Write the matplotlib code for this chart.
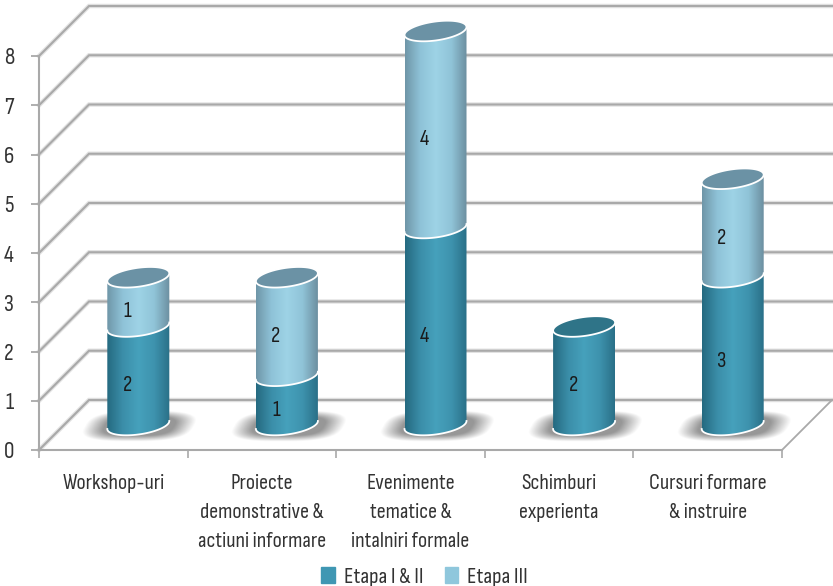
import numpy as np
import matplotlib
matplotlib.use('Agg')
import matplotlib.pyplot as plt
from matplotlib.colors import LinearSegmentedColormap
from matplotlib.patches import Patch, PathPatch, Polygon
from matplotlib.path import Path

categories = ['Workshop-uri', 'Proiecte\ndemonstrative &\nactiuni informare',
              'Evenimente\ntematice &\nintalniri formale', 'Schimburi\nexperienta',
              'Cursuri formare\n& instruire']
etapa_12 = [2, 1, 4, 2, 3]
etapa_3 = [1, 2, 4, 0, 2]
yticks = [0, 1, 2, 3, 4, 5, 6, 7, 8]

plt.rcParams['font.family'] = ['Sofia Sans Condensed', 'Liberation Sans', 'DejaVu Sans']

# one pixel in data units
px_x = 5 / 743
px_y = 8 / 394
depth = 50
bar_a = 31
bar_b = 9.5
tilt = 4

fig = plt.figure(figsize=(8.33, 5.86), dpi=100)
ax = fig.add_axes([39 / 833, 136 / 586, 743 / 833, 394 / 586])
ax.set_xlim(0, 5)
ax.set_ylim(0, 8)

grid_col = '#a9a9a9'
back_x0 = depth * px_x
back_dy = depth * px_y
back_x1 = 5 + back_x0
for v in yticks:
    # floor line is drawn the same way as the wall lines
    ax.plot([0, back_x0, back_x1], [v, v + back_dy, v + back_dy], color='#e2e2e2', lw=3.2,
            clip_on=False, zorder=1, solid_joinstyle='miter')
    ax.plot([0, back_x0, back_x1], [v, v + back_dy, v + back_dy], color=grid_col, lw=1.5,
            clip_on=False, zorder=1.1, solid_joinstyle='miter')
ax.plot([5, back_x1], [0, back_dy], color=grid_col, lw=1.3, clip_on=False, zorder=1.1)


def arc(cx, cy, t):
    return np.column_stack([cx + bar_a * px_x * np.cos(t),
                            cy + (bar_b * np.sin(t) + tilt * np.cos(t)) * px_y])


def shadow(cx, cy):
    ny, nx = 60, 140
    w, h = 58, 18
    u = np.linspace(-w, w, nx)
    y = np.linspace(-h, h, ny)
    uu, yy = np.meshgrid(u, y)
    r = ((np.abs((uu - 0.55 * yy - 2) / 44)) ** 3 + (np.abs(yy + 1) / 12.5) ** 3) ** (1 / 3)
    a = np.clip((1.25 - r) / 0.45, 0, 1) * 0.7
    img = np.zeros((ny, nx, 4))
    img[..., :3] = 0.42
    img[..., 3] = a
    ax.imshow(img, extent=[cx - w * px_x, cx + w * px_x, cy - h * px_y, cy + h * px_y],
              origin='lower', aspect='auto', zorder=2, clip_on=False)


def segment(cx, y0, y1, cmap, z):
    # y0, y1 are already shifted to the middle of the depth
    t_front = np.linspace(np.pi, 2 * np.pi, 50)
    low = arc(cx, y0, t_front)
    up = arc(cx, y1, t_front[::-1])
    verts = np.vstack([low, up, low[:1]])
    clip = PathPatch(Path(verts), transform=ax.transData)
    grad = np.linspace(0, 1, 200).reshape(1, -1)
    im = ax.imshow(grad, cmap=cmap, vmin=0, vmax=1, aspect='auto', zorder=z,
                   extent=[cx - bar_a * px_x, cx + bar_a * px_x,
                           y0 - 20 * px_y, y1 + 20 * px_y])
    im.set_clip_box(fig.bbox)
    im.set_clip_path(clip)
    ax.plot(low[:, 0], low[:, 1], color='white', lw=1.3, clip_on=False, zorder=z + 0.1)


def cap(cx, y, col, z):
    t = np.linspace(0, 2 * np.pi, 90)
    pts = arc(cx, y, t)
    ax.add_patch(Polygon(pts, closed=True, facecolor=col, edgecolor='white', lw=1.3,
                         clip_on=False, zorder=z))


dark = LinearSegmentedColormap.from_list('dark', ['#256a80', '#3b8ea9', '#46a1bc', '#3e93ae', '#2a7088'])
light = LinearSegmentedColormap.from_list('light', ['#6f96a8', '#8fc3d8', '#9ed3e6', '#90c4d8', '#6c8fa0'])
dark_top = '#2f7488'
light_top = '#6b92a5'

shift = back_dy / 2
label_shift = 15 * px_y
for i in range(len(categories)):
    cx = i + 0.5 + back_x0 / 2
    a = etapa_12[i]
    b = etapa_3[i]
    shadow(cx, shift)
    z = 3 + i
    segment(cx, shift, a + shift, dark, z)
    ax.text(cx - 11 * px_x, a / 2 + label_shift, str(a), ha='center', va='center', fontsize=16,
            color='#1a1a1a', zorder=z + 0.5, clip_on=False)
    if b > 0:
        segment(cx, a + shift, a + b + shift, light, z + 0.2)
        ax.text(cx - 11 * px_x, a + b / 2 + label_shift, str(b), ha='center', va='center', fontsize=16,
                color='#1a1a1a', zorder=z + 0.5, clip_on=False)
        cap(cx, a + b + shift, light_top, z + 0.4)
    else:
        cap(cx, a + shift, dark_top, z + 0.4)

for s in ['top', 'right']:
    ax.spines[s].set_visible(False)
for s in ['left', 'bottom']:
    ax.spines[s].set_color(grid_col)
    ax.spines[s].set_linewidth(1.5)
    ax.spines[s].set_zorder(1.2)

ax.set_yticks(yticks)
ax.set_xticks(range(6))
ax.set_xticklabels([])
ax.set_xticks(np.arange(5) + 0.5, labels=categories, minor=True)
ax.tick_params(axis='y', length=6, width=1.3, color=grid_col, labelsize=17, labelcolor='#333333', pad=12)
ax.tick_params(axis='x', which='major', length=6, width=1.2, color=grid_col)
ax.tick_params(axis='x', which='minor', length=0, labelsize=16, labelcolor='#333333', pad=17)
for lab in ax.get_xticklabels(minor=True):
    lab.set_linespacing(1.68)

ax.set_xlim(0, 5)
ax.set_ylim(0, 8)

handles = [Patch(color='#3f97b3', label='Etapa I & II'), Patch(color='#8fc7dc', label='Etapa III')]
fig.legend(handles=handles, loc='lower center', bbox_to_anchor=(0.51, -0.037), ncol=2, frameon=False,
           fontsize=16.5, handlelength=0.6, handleheight=0.75, handletextpad=0.4, columnspacing=0.9,
           labelcolor='#333333')

fig.savefig('out.png', dpi=100)
